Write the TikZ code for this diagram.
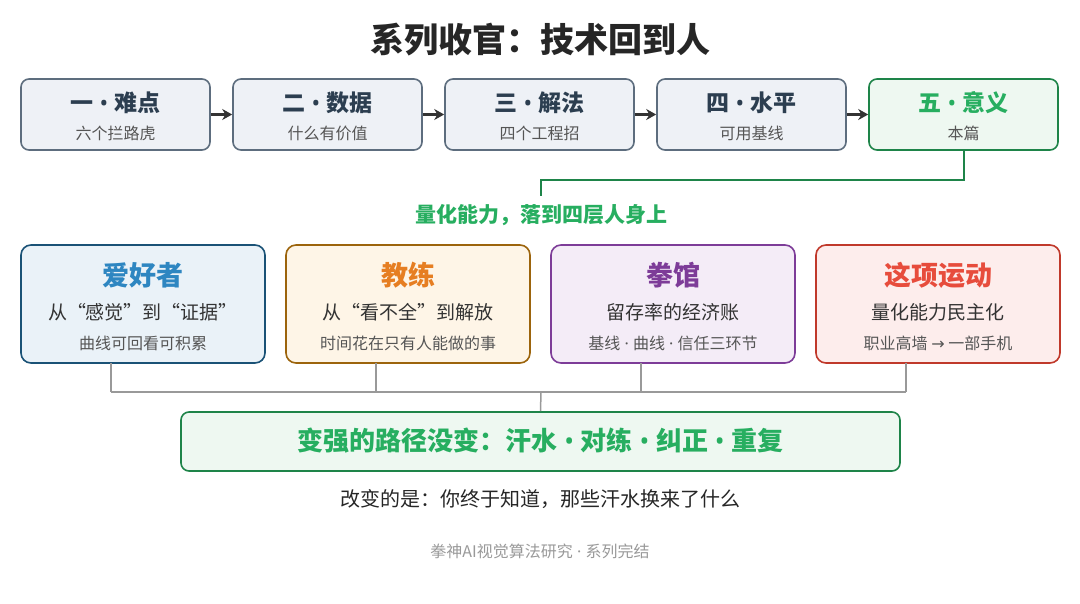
\documentclass[tikz,border=0pt]{standalone}
\usepackage{fontspec}
\setmainfont{Noto Sans CJK SC}
\newfontfamily\latin{Noto Sans}
\newfontfamily\symb{DejaVu Sans}
\usetikzlibrary{arrows.meta}
\definecolor{stepfill}{HTML}{EEF1F6}
\definecolor{stepline}{HTML}{5D6D7E}
\definecolor{steptext}{HTML}{2C3E50}
\definecolor{goodline}{HTML}{1E8449}
\definecolor{goodtext}{HTML}{27AE60}
\definecolor{goodfill}{HTML}{EEF8F1}
\definecolor{subgray}{HTML}{555555}
\newcommand{\bul}{{\latin\ •\ }}
\newcommand{\mdot}{{\latin\ ·\ }}
\tikzstyle{chapter}=[draw=stepline,fill=stepfill,line width=1.6pt,rounded corners=8pt,minimum width=189pt,minimum height=71pt]
\tikzstyle{layer}=[line width=1.6pt,rounded corners=10pt,minimum width=244pt,minimum height=118pt]
\tikzstyle{l}=[draw=black!80,line width=2.5pt,-{Stealth[length=10pt,width=11pt]}]
\tikzstyle{link}=[draw=black!40,line width=1.5pt]

\begin{document}
\begin{tikzpicture}[x=1pt,y=-1pt]
\useasboundingbox (0,0) rectangle (1080,603);

% title
\node[font=\fontsize{34}{38}\selectfont\bfseries,text=black!85] (title) at (540,40) {系列收官：技术回到人};

% chapters
\foreach \i/\t/\s [count=\k from 0] in {1/一\bul 难点/六个拦路虎,2/二\bul 数据/什么有价值,3/三\bul 解法/四个工程招,4/四\bul 水平/可用基线}{
  \node[chapter] (s\i) at (115.5+212*\k,114.5) {};
  \node[font=\fontsize{23}{26}\selectfont\bfseries,text=steptext] at (115.5+212*\k,103) {\t};
  \node[font=\fontsize{16}{19}\selectfont,text=subgray] at (115.5+212*\k,133) {\s};
}
\node[chapter,draw=goodline,fill=goodfill] (s5) at (963.5,114.5) {};
\node[font=\fontsize{23}{26}\selectfont\bfseries,text=goodtext] at (963.5,103) {五\bul 意义};
\node[font=\fontsize{16}{19}\selectfont,text=subgray] at (963.5,133) {本篇};

%paths
\foreach \a/\b in {1/2,2/3,3/4,4/5}
  \path[l] (s\a.east) -- (s\b.west);

% focus
\coordinate (turn) at (541,196);
\draw[goodline,line width=2pt] (s5.south) |- (541,180) -- (turn);
\node[font=\fontsize{21}{24}\selectfont\bfseries,text=goodtext] (focus) at (541,215) {量化能力，落到四层人身上};

% layers
\foreach \n/\c/\f/\h/\t/\a/\b [count=\k from 0] in {
  fan/1A5276/EAF2F8/2E86C1/爱好者/从“感觉”到“证据”/曲线可回看可积累,
  coach/9C640C/FEF5E7/E67E22/教练/从“看不全”到解放/时间花在只有人能做的事,
  gym/7D3C98/F4ECF7/7D3C98/拳馆/留存率的经济账/基线\mdot 曲线\mdot 信任三环节,
  sport/C0392B/FDEDEC/E74C3C/这项运动/量化能力民主化/职业高墙 {\symb →} 一部手机}{
  \definecolor{ln}{HTML}{\c}\definecolor{fl}{HTML}{\f}\definecolor{hd}{HTML}{\h}
  \node[layer,draw=ln,fill=fl] (\n) at (143+265*\k,304) {};
  \node[font=\fontsize{27}{30}\selectfont\bfseries,text=hd] at (143+265*\k,275) {\t};
  \node[font=\fontsize{19}{22}\selectfont,text=black!80] at (143+265*\k,312) {\a};
  \node[font=\fontsize{16}{19}\selectfont,text=subgray] at (143+265*\k,343) {\b};
  \coordinate (d\k) at (111+265*\k,392);
  \draw[link] (111+265*\k,363) -- (d\k);
}
\draw[link] (d0) -- (d3);

% bottom
\node[draw=goodline,fill=goodfill,line width=1.6pt,rounded corners=8pt,minimum width=719pt,minimum height=59pt] (way) at (540.5,441.5) {};
\node[font=\fontsize{26}{30}\selectfont\bfseries,text=goodtext] at (540.5,441) {变强的路径没变：汗水\bul 对练\bul 纠正\bul 重复};
\draw[link] (541,392) -- (way.north);
\node[font=\fontsize{20}{24}\selectfont,text=black!85] (note) at (540,499) {改变的是：你终于知道，那些汗水换来了什么};
\node[font=\fontsize{16}{19}\selectfont,text=black!40] (foot) at (540,551) {拳神AI视觉算法研究\mdot 系列完结};
\end{tikzpicture}
\end{document}
